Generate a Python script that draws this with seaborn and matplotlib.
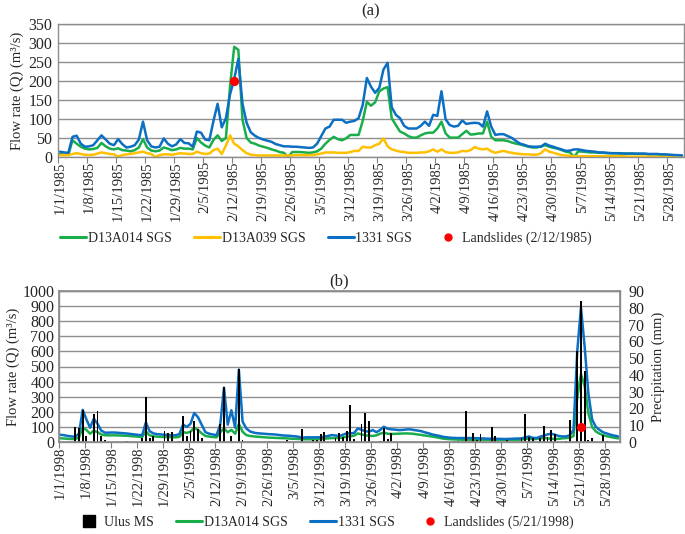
import numpy as np
import pandas as pd
import matplotlib
matplotlib.use("Agg")
import matplotlib.pyplot as plt
import seaborn as sns
from matplotlib.lines import Line2D

# (a) daily flow 1/1/1985 - 5/31/1985, m3/s
dates_1985 = pd.date_range("1985-01-01", "1985-05-31", freq="D")
q_d13a014_1985 = [
    8, 6, 6, 44, 35, 27, 22, 20, 21, 24,
    37, 28, 22, 20, 23, 18, 17, 15, 18, 25,
    47, 25, 17, 15, 17, 25, 22, 18, 20, 24,
    22, 22, 20, 50, 38, 30, 25, 45, 57, 42,
    50, 186, 290, 282, 98, 50, 38, 35, 30, 27,
    24, 20, 17, 13, 11, 0, 13, 13, 13, 12,
    11, 12, 15, 22, 35, 45, 53, 47, 44, 49,
    58, 58, 58, 95, 145, 135, 144, 173, 180, 184,
    102, 84, 67, 62, 55, 51, 51, 57, 62, 64,
    64, 75, 93, 62, 51, 51, 51, 60, 69, 59,
    60, 62, 62, 93, 53, 44, 44, 44, 42, 38,
    35, 33, 30, 27, 25, 25, 28, 31, 27, 24,
    22, 18, 14, 12, 0, 15, 14, 13, 12, 12,
    11, 11, 10, 10, 10, 9, 9, 9, 9, 8,
    8, 8, 7, 7, 7, 6, 6, 5, 5, 4, 4]
q_d13a039_1985 = [
    5, 5, 5, 8, 10, 8, 6, 5, 6, 9,
    12, 10, 8, 7, 1, 5, 7, 8, 10, 12,
    14, 10, 8, 0, 5, 7, 7, 6, 8, 10,
    9, 8, 8, 14, 10, 8, 9, 18, 22, 8,
    30, 57, 35, 28, 18, 10, 6, 5, 4, 4,
    4, 4, 4, 4, 4, 4, 4, 5, 5, 5,
    5, 5, 7, 9, 12, 12, 12, 11, 11, 11,
    13, 16, 16, 27, 25, 25, 31, 35, 49, 28,
    20, 17, 14, 13, 11, 11, 11, 12, 12, 15,
    20, 14, 20, 13, 11, 11, 12, 16, 15, 18,
    26, 22, 20, 22, 15, 11, 14, 16, 13, 11,
    9, 8, 7, 7, 6, 6, 10, 20, 14, 11,
    8, 5, 4, 3, 2, 2, 2, 2, 2, 2,
    2, 2, 2, 2, 2, 2, 2, 1, 1, 1,
    1, 1, 1, 1, 1, 1, 1, 1, 1, 1, 1]
q_1331_1985 = [
    14, 12, 11, 53, 56, 35, 27, 28, 31, 44,
    57, 46, 35, 31, 47, 34, 25, 27, 31, 46,
    93, 44, 28, 25, 27, 49, 35, 28, 33, 47,
    37, 36, 27, 67, 64, 46, 44, 95, 140, 78,
    102, 165, 205, 258, 140, 90, 65, 56, 50, 46,
    43, 40, 34, 31, 28, 28, 27, 27, 26, 25,
    24, 25, 35, 55, 75, 80, 98, 98, 98, 90,
    93, 95, 102, 137, 208, 185, 169, 182, 230, 248,
    131, 111, 102, 82, 75, 75, 75, 82, 93, 82,
    111, 108, 173, 99, 84, 80, 82, 96, 87, 89,
    90, 89, 80, 120, 80, 58, 60, 60, 55, 50,
    42, 35, 32, 28, 27, 27, 27, 35, 30, 27,
    23, 20, 16, 17, 20, 20, 18, 16, 15, 14,
    12, 12, 11, 10, 10, 10, 9, 9, 9, 9,
    9, 9, 8, 8, 8, 7, 7, 6, 5, 5, 4]
landslide_1985 = ("1985-02-12", 200)

# (b) daily flow and rain 1/1/1998 - 5/31/1998
dates_1998 = pd.date_range("1998-01-01", "1998-05-31", freq="D")
q_d13a014_1998 = [
    25, 23, 21, 20, 20, 30, 95, 80, 55, 75,
    65, 50, 45, 44, 44, 44, 43, 42, 41, 39,
    37, 35, 33, 70, 45, 38, 35, 34, 33, 32,
    31, 31, 34, 66, 60, 68, 95, 80, 58, 40,
    36, 33, 31, 65, 90, 65, 80, 55, 120, 68,
    46, 40, 37, 35, 33, 31, 29, 28, 27, 26,
    25, 24, 22, 21, 20, 18, 18, 18, 18, 18,
    20, 22, 24, 26, 26, 27, 30, 35, 38, 42,
    57, 50, 44, 42, 40, 44, 55, 62, 55, 53,
    54, 55, 56, 57, 56, 54, 50, 47, 43, 40,
    36, 32, 27, 22, 20, 18, 17, 16, 15, 15,
    15, 15, 15, 15, 15, 15, 15, 15, 15, 15,
    15, 15, 15, 15, 16, 20, 22, 19, 20, 24,
    26, 24, 22, 20, 21, 24, 26, 28, 40, 290,
    450, 370, 190, 100, 70, 55, 45, 38, 33, 28, 24]
q_1331_1998 = [
    48, 45, 40, 37, 35, 55, 213, 150, 95, 155,
    120, 75, 62, 62, 63, 62, 60, 58, 56, 53,
    50, 47, 45, 130, 72, 57, 52, 50, 48, 46,
    45, 45, 52, 115, 100, 120, 192, 165, 115, 65,
    55, 50, 45, 115, 360, 115, 210, 95, 480, 135,
    90, 70, 62, 58, 56, 54, 52, 51, 49, 46,
    43, 42, 40, 38, 35, 28, 31, 31, 31, 31,
    32, 35, 40, 46, 43, 40, 48, 57, 57, 60,
    90, 80, 72, 68, 79, 65, 80, 101, 88, 84,
    82, 79, 80, 83, 84, 80, 76, 72, 64, 58,
    50, 45, 40, 34, 31, 28, 27, 26, 26, 26,
    26, 26, 25, 24, 23, 22, 22, 21, 21, 20,
    20, 21, 22, 23, 24, 30, 37, 28, 26, 35,
    42, 50, 55, 48, 40, 37, 37, 45, 80, 600,
    890, 630, 320, 150, 100, 80, 64, 56, 48, 42, 37]
# Ulus MS precipitation (mm), only rainy days
rain_dates_1998 = [
    "1998-01-05", "1998-01-06", "1998-01-07", "1998-01-08", "1998-01-10",
    "1998-01-11", "1998-01-12", "1998-01-13", "1998-01-19", "1998-01-23",
    "1998-01-24", "1998-01-25", "1998-01-26", "1998-01-29", "1998-01-30",
    "1998-01-31", "1998-02-02", "1998-02-03", "1998-02-04", "1998-02-05",
    "1998-02-06", "1998-02-07", "1998-02-08", "1998-02-13", "1998-02-14",
    "1998-02-16", "1998-02-18", "1998-02-19", "1998-02-26", "1998-03-03",
    "1998-03-07", "1998-03-10", "1998-03-11", "1998-03-12", "1998-03-13",
    "1998-03-16", "1998-03-17", "1998-03-18", "1998-03-19", "1998-03-20",
    "1998-03-21", "1998-03-23", "1998-03-24", "1998-03-25", "1998-03-28",
    "1998-03-29", "1998-03-30", "1998-03-31", "1998-04-17", "1998-04-18",
    "1998-04-20", "1998-04-22", "1998-04-23", "1998-04-24", "1998-04-27",
    "1998-04-28", "1998-05-01", "1998-05-05", "1998-05-06", "1998-05-07",
    "1998-05-08", "1998-05-10", "1998-05-11", "1998-05-12", "1998-05-13",
    "1998-05-14", "1998-05-17", "1998-05-18", "1998-05-20", "1998-05-21",
    "1998-05-22", "1998-05-23", "1998-05-24", "1998-05-27", "1998-05-28"]
rain_mm_1998 = [
    8.7, 8.3, 19.2, 3.8, 16.6,
    18.2, 3.8, 1.4, 0.8, 2.4,
    26.7, 2.4, 3.4, 6.3, 5.3,
    5.7, 0.8, 15.6, 3.4, 6.3,
    12.5, 7.7, 2.4, 10.9, 33.0,
    3.4, 43.4, 1.0, 0.8, 1.2,
    7.5, 1.0, 1.0, 4.8, 5.7,
    2.4, 5.1, 3.2, 6.5, 22.0,
    1.6, 11.0, 17.4, 12.7, 0.8,
    8.1, 1.6, 5.5, 0.8, 0.8,
    18.2, 5.3, 1.4, 5.0, 8.9,
    3.8, 1.0, 2.4, 16.6, 3.0,
    2.4, 2.4, 9.3, 3.0, 7.3,
    5.0, 0.8, 13.3, 54.0, 84.0,
    42.6, 1.0, 2.4, 4.2, 0.8]
landslide_1998 = ("1998-05-21", 100)

GREEN = "#1aae4a"
YELLOW = "#ffc000"
BLUE = "#0b6fc4"
GRID = "#8f8f8f"
FS = 10.5
FS_Y = 11.5
FS_LEG = 10

sns.set_theme(style="white")
plt.rcParams["font.family"] = ["Liberation Serif", "DejaVu Serif"]
plt.rcParams["font.size"] = FS

fig = plt.figure(figsize=(6.85, 5.34), dpi=100)
ax_a = fig.add_axes([58 / 685, 1 - 157 / 534, 626 / 685, 133 / 534])
ax_b = fig.add_axes([58.5 / 685, 1 - 442 / 534, 561.5 / 685, 151 / 534])
ax_b2 = ax_b.twinx()


def day_index(dates, start):
    return (pd.to_datetime(pd.Series(dates)) - pd.Timestamp(start)).dt.days.to_numpy()


def style_date_axis(ax, dates):
    n = len(dates)
    ax.set_xlim(-0.5, n - 0.5)
    pos = np.arange(0, n, 7)
    ax.set_xticks(pos)
    ax.set_xticklabels([f"{d.month}/{d.day}/{d.year}" for d in dates[::7]],
                       rotation=90, fontsize=FS)
    ax.set_xticks(pos - 0.5, minor=True)
    ax.tick_params(axis="x", which="major", length=0, pad=3)
    ax.tick_params(axis="x", which="minor", length=4, width=0.8,
                   color="#7f7f7f", direction="out", bottom=True)
    ax.set_xlabel("")
    ax.yaxis.grid(True, color=GRID, linewidth=1.0)
    ax.set_axisbelow(True)
    for s in ax.spines.values():
        s.set_color("#8c8c8c")
        s.set_linewidth(1.0)


def legend_kw(x, y):
    return dict(loc="center", bbox_to_anchor=(x / 685, 1 - y / 534), ncol=4,
                frameon=False, handlelength=1.9, handletextpad=0.1,
                columnspacing=1.6, fontsize=FS_LEG)


# panel (a)
start_a = dates_1985[0]
df_a = pd.DataFrame({
    "day": np.arange(len(dates_1985)),
    "D13A014 SGS": q_d13a014_1985,
    "D13A039 SGS": q_d13a039_1985,
    "1331 SGS": q_1331_1985,
}).melt(id_vars="day", var_name="station", value_name="Q")
sns.lineplot(data=df_a, x="day", y="Q", hue="station",
             hue_order=["D13A014 SGS", "D13A039 SGS", "1331 SGS"],
             palette=[GREEN, YELLOW, BLUE], linewidth=1.8,
             legend=False, ax=ax_a)
ax_a.scatter(day_index([landslide_1985[0]], start_a), [landslide_1985[1]],
             color="red", s=45, zorder=5, linewidths=0)
style_date_axis(ax_a, dates_1985)
ax_a.set_ylim(0, 350)
ax_a.set_yticks(range(0, 351, 50))
ax_a.tick_params(axis="y", length=0, pad=4, labelsize=FS_Y)
ax_a.set_ylabel("Flow rate (Q) (m³/s)", fontsize=FS, labelpad=3)
ax_a.set_title("(a)", fontsize=12, pad=6)

fig.legend(
    handles=[Line2D([], [], color=GREEN, lw=2.2),
             Line2D([], [], color=YELLOW, lw=2.2),
             Line2D([], [], color=BLUE, lw=2.2),
             Line2D([], [], color="red", marker="o", ls="", ms=5)],
    labels=["D13A014 SGS", "D13A039 SGS", "1331 SGS", "Landslides (2/12/1985)"],
    **legend_kw(326, 238))

# panel (b)
start_b = dates_1998[0]
rain_full = np.zeros(len(dates_1998))
rain_full[day_index(rain_dates_1998, start_b)] = rain_mm_1998
df_rain = pd.DataFrame({"day": np.arange(len(dates_1998)), "P": rain_full})

df_b = pd.DataFrame({
    "day": np.arange(len(dates_1998)),
    "D13A014 SGS": q_d13a014_1998,
    "1331 SGS": q_1331_1998,
}).melt(id_vars="day", var_name="station", value_name="Q")
sns.lineplot(data=df_b, x="day", y="Q", hue="station",
             hue_order=["D13A014 SGS", "1331 SGS"],
             palette=[GREEN, BLUE], linewidth=1.8, legend=False, ax=ax_b)
sns.barplot(data=df_rain, x="day", y="P", native_scale=True, width=0.5,
            color="black", saturation=1, errorbar=None, linewidth=0,
            edgecolor="black", ax=ax_b2)
ax_b2.plot(day_index([landslide_1998[0]], start_b), [landslide_1998[1]], "o",
           color="red", ms=6.5, mew=0, zorder=6, transform=ax_b.transData)

style_date_axis(ax_b, dates_1998)
ax_b.set_ylim(0, 1000)
ax_b.set_yticks(range(0, 1001, 100))
ax_b.tick_params(axis="y", length=0, pad=3, labelsize=FS_Y)
ax_b.set_ylabel("Flow rate (Q) (m³/s)", fontsize=FS, labelpad=2)
ax_b.set_title("(b)", fontsize=12, pad=4)

ax_b2.set_xlim(-0.5, len(dates_1998) - 0.5)
ax_b2.set_ylim(0, 90)
ax_b2.set_yticks(range(0, 91, 10))
ax_b2.tick_params(axis="y", length=0, pad=6, labelsize=FS_Y)
ax_b2.set_ylabel("Precipitation (mm)", fontsize=FS, labelpad=5)
ax_b2.set_xlabel("")
ax_b2.grid(False)
for s in ax_b2.spines.values():
    s.set_color("#8c8c8c")

fig.legend(
    handles=[Line2D([], [], color="black", marker="s", ls="", ms=8),
             Line2D([], [], color=GREEN, lw=2.2),
             Line2D([], [], color=BLUE, lw=2.2),
             Line2D([], [], color="red", marker="o", ls="", ms=5)],
    labels=["Ulus MS", "D13A014 SGS", "1331 SGS", "Landslides (5/21/1998)"],
    **legend_kw(325, 522))

fig.savefig("out.png", dpi=100)
